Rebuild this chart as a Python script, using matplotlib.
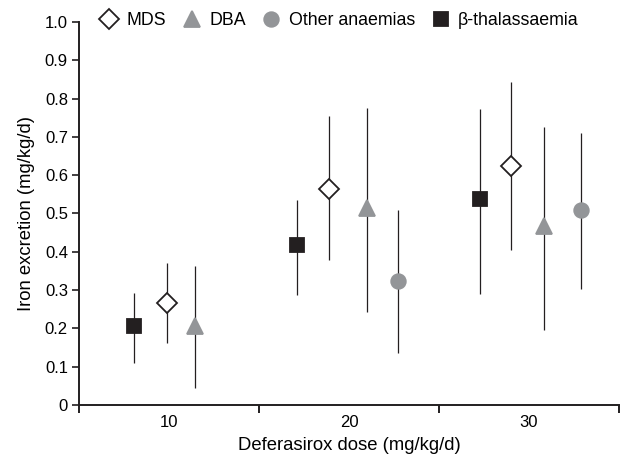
import matplotlib
matplotlib.use("Agg")
import matplotlib.pyplot as plt
import numpy as np

plt.rcParams["font.family"] = ["Liberation Sans", "DejaVu Sans"]

# dose (mg/kg/d), mean iron excretion, lower and upper whisker
thal_dose = [8.07, 17.1, 27.26]
thal_mean = [0.206, 0.418, 0.537]
thal_low = [0.110, 0.288, 0.291]
thal_high = [0.293, 0.536, 0.773]

mds_dose = [9.87, 18.9, 29.0]
mds_mean = [0.266, 0.565, 0.625]
mds_low = [0.161, 0.379, 0.404]
mds_high = [0.372, 0.755, 0.844]

dba_dose = [11.46, 21.0, 30.83]
dba_mean = [0.207, 0.514, 0.467]
dba_low = [0.045, 0.243, 0.197]
dba_high = [0.363, 0.775, 0.725]

other_dose = [22.7, 32.87]
other_mean = [0.323, 0.510]
other_low = [0.135, 0.304]
other_high = [0.508, 0.709]

dark = "#231f20"
grey = "#939598"

fig = plt.figure(figsize=(6.22, 4.58), dpi=100)
ax = fig.add_axes([0.127, 0.1157, 0.868, 0.8363])


def draw(dose, mean, low, high, marker, ms, face, edge, label):
    mean = np.array(mean)
    yerr = [mean - np.array(low), np.array(high) - mean]
    ax.errorbar(dose, mean, yerr=yerr, fmt="none", ecolor=dark,
                elinewidth=0.9, capsize=0, zorder=2)
    ax.plot(dose, mean, linestyle="none", marker=marker, markersize=ms,
            markerfacecolor=face, markeredgecolor=edge, markeredgewidth=1.3,
            label=label, zorder=3)


draw(mds_dose, mds_mean, mds_low, mds_high, "D", 9.8, "white", dark, "MDS")
draw(dba_dose, dba_mean, dba_low, dba_high, "^", 12, grey, grey, "DBA")
draw(other_dose, other_mean, other_low, other_high, "o", 10.5, grey, grey,
     "Other anaemias")
draw(thal_dose, thal_mean, thal_low, thal_high, "s", 10, dark, dark,
     "β-thalassaemia")

ax.set_xlim(5, 35)
ax.set_ylim(0, 1.0)
ax.spines["top"].set_visible(False)
ax.spines["right"].set_visible(False)
for s in ["left", "bottom"]:
    ax.spines[s].set_linewidth(1.4)
    ax.spines[s].set_color(dark)

ax.set_xticks([5, 15, 25, 35])
ax.set_xticklabels([])
ax.set_xticks([10, 20, 30], minor=True)
ax.set_xticklabels(["10", "20", "30"], minor=True)
ax.tick_params(axis="x", which="major", length=6, width=1.4, color=dark)
ax.tick_params(axis="x", which="minor", length=0, labelsize=12, pad=7)

yticks = np.round(np.arange(0, 1.01, 0.1), 1)
ax.set_yticks(yticks)
ax.set_yticklabels(["0"] + [f"{v:.1f}" for v in yticks[1:]])
ax.tick_params(axis="y", length=5, width=1.2, color=dark, labelsize=12, pad=3)

ax.set_xlabel("Deferasirox dose (mg/kg/d)", fontsize=13.3, labelpad=5)
ax.set_ylabel("Iron excretion (mg/kg/d)", fontsize=13.3, labelpad=7)

ax.legend(loc="center left", bbox_to_anchor=(0.039, 1.004), ncol=4,
          frameon=False, fontsize=12.8, handlelength=1.0, handletextpad=0.48,
          columnspacing=0.94, borderaxespad=0, borderpad=0)

fig.savefig("out.png", dpi=100)
